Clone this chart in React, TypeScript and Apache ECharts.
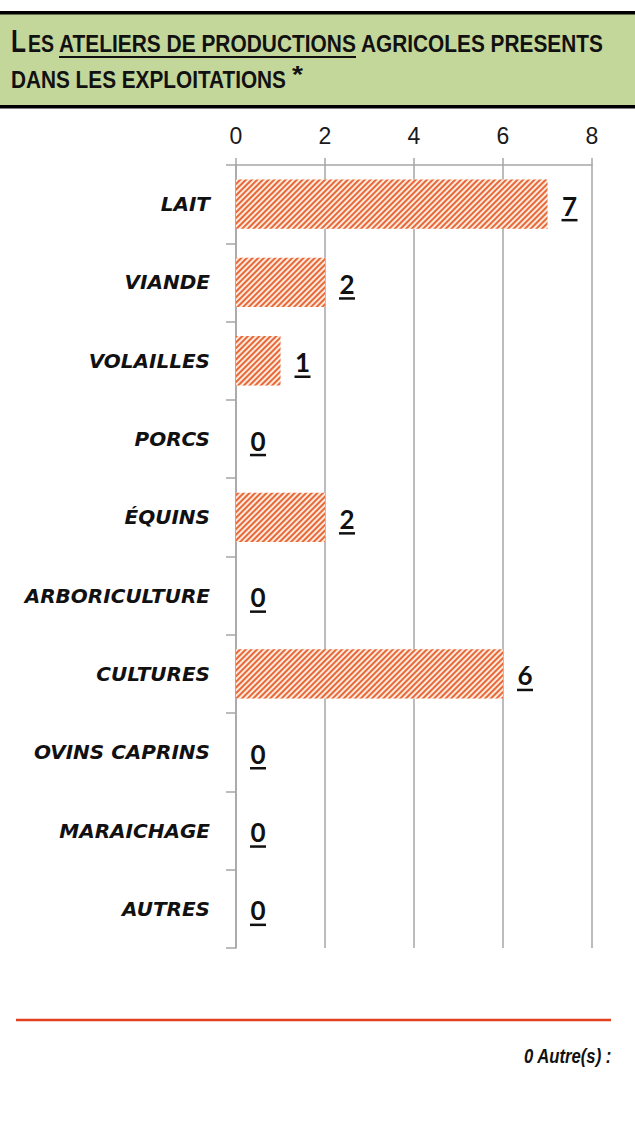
import React, { useEffect, useRef } from "react";
import * as echarts from "echarts";

const categories = [
  "LAIT",
  "VIANDE",
  "VOLAILLES",
  "PORCS",
  "ÉQUINS",
  "ARBORICULTURE",
  "CULTURES",
  "OVINS CAPRINS",
  "MARAICHAGE",
  "AUTRES",
];
const values = [7, 2, 1, 0, 2, 0, 6, 0, 0, 0];
const xTicks = [0, 2, 4, 6, 8];
const autresCount = 0;

const TITLE_FONT = "Liberation Sans, Arial, sans-serif";

function measure(text: string, font: string): number {
  const c = document.createElement("canvas");
  const ctx = c.getContext("2d");
  if (!ctx) return 1;
  ctx.font = font;
  return ctx.measureText(text).width || 1;
}

function fitText(
  text: string,
  x: number,
  y: number,
  width: number,
  fontSize: number,
  opts: { italic?: boolean; align?: string } = {}
) {
  const fontStr = `${opts.italic ? "italic " : ""}bold ${fontSize}px ${TITLE_FONT}`;
  const w = measure(text, fontStr);
  const sx = width / w;
  const left = opts.align === "right" ? x - width : x;
  return {
    type: "text",
    x: left,
    y,
    scaleX: sx,
    scaleY: 1,
    style: {
      text,
      align: "left",
      verticalAlign: "middle",
      fontFamily: TITLE_FONT,
      fontWeight: "bold",
      fontStyle: opts.italic ? "italic" : "normal",
      fontSize,
      fill: "#111",
    },
  };
}

export default function App() {
  const ref = useRef<HTMLDivElement>(null);
  useEffect(() => {
    document.body.style.margin = "0";
    if (!ref.current) return;
    const chart = echarts.init(ref.current, undefined, { renderer: "svg" });
    const option: any = {
      animation: false,
      backgroundColor: "#ffffff",
      grid: { left: 236, right: 43, top: 165, bottom: 183, containLabel: false },
      xAxis: {
        type: "value",
        position: "top",
        min: xTicks[0],
        max: xTicks[xTicks.length - 1],
        interval: 2,
        axisLine: { show: true, lineStyle: { color: "#a6a6a6", width: 1.5 } },
        axisTick: { show: true, length: 7, lineStyle: { color: "#a6a6a6", width: 1.5 } },
        splitLine: { show: true, lineStyle: { color: "#a6a6a6", width: 1.5 } },
        axisLabel: {
          margin: 18,
          fontFamily: "Liberation Sans, Arial, sans-serif",
          fontSize: 23,
          color: "#1a1a1a",
        },
      },
      yAxis: {
        type: "category",
        inverse: true,
        data: categories,
        axisLine: { show: true, lineStyle: { color: "#a6a6a6", width: 1.5 } },
        axisTick: { show: true, length: 10, lineStyle: { color: "#a6a6a6", width: 1.5 } },
        axisLabel: {
          margin: 26,
          fontFamily: "DejaVu Sans",
          fontStyle: "italic",
          fontWeight: "bold",
          fontSize: 20,
          color: "#111",
        },
      },
      series: [
        {
          type: "bar",
          data: values,
          barCategoryGap: "37%",
          itemStyle: {
            color: "#fcebdd",
            decal: {
              symbol: "rect",
              symbolSize: 1,
              dashArrayX: [[1, 0]],
              dashArrayY: [1.6, 1.9],
              rotation: -Math.PI / 4,
              color: "#e8683a",
            },
          },
          label: {
            show: true,
            position: "right",
            distance: 14,
            offset: [0, 4],
            formatter: (p: any) => `{v|${p.value}}\n{u|}`,
            rich: {
              v: {
                fontFamily: "Lato",
                fontWeight: "bold",
                fontSize: 26,
                color: "#111",
                align: "center",
                lineHeight: 24,
              },
              u: {
                backgroundColor: "#111",
                height: 2.5,
                width: 16,
                lineHeight: 5,
                align: "center",
              },
            },
          },
        },
      ],
      graphic: [
        { type: "rect", shape: { x: 0, y: 11, width: 635, height: 97 }, style: { fill: "#c4d79b" } },
        { type: "rect", shape: { x: 0, y: 11, width: 635, height: 3.5 }, style: { fill: "#000" } },
        { type: "rect", shape: { x: 0, y: 105, width: 635, height: 3.5 }, style: { fill: "#000" } },
        fitText("L", 11, 41, 15, 31),
        fitText("ES", 28, 44, 26, 23),
        fitText("ATELIERS DE PRODUCTIONS", 59, 44, 297, 23),
        fitText("AGRICOLES PRESENTS", 361, 44, 242, 23),
        {
          type: "line",
          shape: { x1: 59, y1: 57, x2: 356, y2: 57 },
          style: { stroke: "#111", lineWidth: 2.2 },
        },
        fitText("DANS LES EXPLOITATIONS", 11, 80, 275, 23),
        fitText("*", 292, 75, 11, 24),
        {
          type: "line",
          shape: { x1: 16, y1: 1020, x2: 611, y2: 1020 },
          style: { stroke: "#e2401f", lineWidth: 2.5 },
        },
        fitText(`${autresCount} Autre(s) :`, 612, 1056, 88, 20, { italic: true, align: "right" }),
      ],
    };
    chart.setOption(option);
    return () => chart.dispose();
  }, []);
  return <div ref={ref} style={{ width: 635, height: 1131 }} />;
}
